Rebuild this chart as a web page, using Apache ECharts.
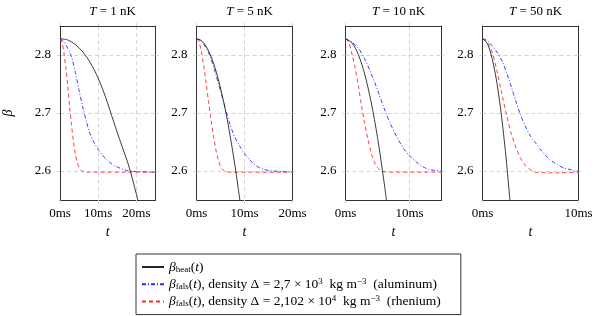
<!DOCTYPE html>
<html><head><meta charset="utf-8">
<script src="https://cdn.jsdelivr.net/npm/echarts@6/dist/echarts.min.js"></script>
<style>html,body{margin:0;padding:0;background:#fff}#c{width:599px;height:316px}</style>
</head><body><div id="c"></div>
<script>
// ---- data ----
const panelT = ['1', '5', '10', '50'];          // temperature in nK
const xMax = [25, 20, 15, 10];                  // ms
const xTicks = [[0, 10, 20], [0, 10, 20], [0, 10], [0, 10]];
const yTicks = [2.6, 2.7, 2.8];
const yMin = 2.55, yMax = 2.85;

// panel 1 (T = 1 nK)
const p1HeatT = [0, 2, 4, 6, 8, 10, 12, 14, 16, 18, 20, 21];
const p1HeatB = [2.828, 2.826, 2.818, 2.805, 2.786, 2.760, 2.726, 2.686, 2.647, 2.609, 2.560, 2.535];
const p1AlT = [0, 1, 2, 3, 4, 5, 6, 7, 8, 9, 10, 11, 12, 13, 14, 15, 16, 17, 18, 20, 25];
const p1AlB = [2.828, 2.823, 2.812, 2.797, 2.770, 2.739, 2.709, 2.683, 2.662, 2.648, 2.637, 2.628, 2.621, 2.615, 2.610, 2.607, 2.604, 2.602, 2.600, 2.599, 2.598];
const p1ReT = [0, 0.5, 1, 1.5, 2, 2.5, 3, 3.5, 4, 4.5, 5, 5.5, 6, 7, 25];
const p1ReB = [2.828, 2.822, 2.805, 2.780, 2.748, 2.712, 2.680, 2.652, 2.630, 2.615, 2.606, 2.601, 2.599, 2.598, 2.598];

// panel 2 (T = 5 nK)
const p2HeatT = [0, 1, 2, 3, 4, 5, 6, 7, 8, 9, 9.5];
const p2HeatB = [2.828, 2.825, 2.815, 2.798, 2.774, 2.743, 2.706, 2.661, 2.610, 2.552, 2.521];
const p2AlT = [0, 1, 2, 3, 4, 5, 6, 7, 8, 9, 10, 11, 12, 13, 14, 15, 16, 18, 20];
const p2AlB = [2.828, 2.824, 2.812, 2.794, 2.767, 2.738, 2.708, 2.680, 2.658, 2.643, 2.630, 2.620, 2.612, 2.606, 2.603, 2.601, 2.600, 2.599, 2.598];
const p2ReT = [0, 0.5, 1, 1.5, 2, 2.5, 3, 3.5, 4, 4.5, 5, 5.5, 6, 7, 20];
const p2ReB = [2.828, 2.823, 2.806, 2.782, 2.752, 2.720, 2.690, 2.662, 2.638, 2.620, 2.608, 2.602, 2.599, 2.598, 2.598];

// panel 3 (T = 10 nK)
const p3HeatT = [0, 1, 2, 3, 4, 5, 6, 6.5];
const p3HeatB = [2.828, 2.821, 2.801, 2.767, 2.719, 2.658, 2.583, 2.541];
const p3AlT = [0, 1, 2, 3, 4, 5, 6, 7, 8, 9, 10, 11, 12, 13, 14, 15];
const p3AlB = [2.828, 2.822, 2.812, 2.793, 2.768, 2.740, 2.709, 2.682, 2.659, 2.640, 2.626, 2.616, 2.608, 2.603, 2.601, 2.600];
const p3ReT = [0, 0.5, 1, 1.5, 2, 2.5, 3, 3.5, 4, 4.5, 5, 5.5, 6, 7, 15];
const p3ReB = [2.828, 2.822, 2.802, 2.778, 2.748, 2.712, 2.682, 2.655, 2.632, 2.616, 2.606, 2.601, 2.599, 2.598, 2.598];

// panel 4 (T = 50 nK)
const p4HeatT = [0, 0.5, 1, 1.5, 2, 2.5, 3];
const p4HeatB = [2.828, 2.820, 2.794, 2.752, 2.692, 2.615, 2.522];
const p4AlT = [0, 0.5, 1, 1.5, 2, 2.5, 3, 3.5, 4, 4.5, 5, 5.5, 6, 6.5, 7, 7.5, 8, 8.5, 9, 9.5, 10];
const p4AlB = [2.828, 2.825, 2.816, 2.805, 2.791, 2.770, 2.745, 2.719, 2.695, 2.676, 2.660, 2.649, 2.638, 2.628, 2.620, 2.614, 2.609, 2.605, 2.603, 2.601, 2.600];
const p4ReT = [0, 0.5, 1, 1.5, 2, 2.5, 3, 3.5, 4, 4.5, 5, 5.5, 6, 7, 8, 10];
const p4ReB = [2.828, 2.822, 2.805, 2.773, 2.734, 2.697, 2.664, 2.640, 2.621, 2.609, 2.602, 2.598, 2.597, 2.597, 2.597, 2.598];

const panels = [
  { heat: [p1HeatT, p1HeatB], al: [p1AlT, p1AlB], re: [p1ReT, p1ReB] },
  { heat: [p2HeatT, p2HeatB], al: [p2AlT, p2AlB], re: [p2ReT, p2ReB] },
  { heat: [p3HeatT, p3HeatB], al: [p3AlT, p3AlB], re: [p3ReT, p3ReB] },
  { heat: [p4HeatT, p4HeatB], al: [p4AlT, p4AlB], re: [p4ReT, p4ReB] }
];

// ---- layout / style ----
const FONT = 'Liberation Serif';
const gridLefts = [59.5, 196.5, 345.5, 482.5];
const gridTop = 26, gridW = 96, gridH = 174;
const gridColor = '#d6d6d6';
const frame = { show: true, onZero: false, lineStyle: { color: '#333', width: 1 } };
const zip = (a, b) => a.map((v, i) => [v, b[i]]);

const grids = [], xAxes = [], yAxes = [], series = [], titles = [];
const tickStyle = { color: gridColor, width: 1, type: [3, 2] };
const styles = {
  heat: { color: '#262626', width: 0.9, type: 'solid' },
  al: { color: '#2a2aff', width: 0.9, type: [4, 2, 1, 2] },
  re: { color: '#ff2a2a', width: 0.9, type: [4, 3] }
};

panels.forEach((p, i) => {
  grids.push({ left: gridLefts[i], top: gridTop, width: gridW, height: gridH, show: false });
  xAxes.push({
    gridIndex: i, type: 'value', min: 0, max: xMax[i], position: 'bottom', z: 1,
    axisLine: frame,
    axisTick: { show: true, customValues: xTicks[i], length: 5, lineStyle: tickStyle },
    axisLabel: { customValues: xTicks[i], formatter: v => v + 'ms', fontFamily: FONT, fontSize: 13, color: '#000', margin: 7 },
    splitLine: { show: true, lineStyle: { color: gridColor, type: [4, 3] } },
    name: 't', nameLocation: 'middle', nameGap: 23,
    nameTextStyle: { fontFamily: FONT, fontStyle: 'italic', fontSize: 14, color: '#000' }
  });
  xAxes.push({
    gridIndex: i, type: 'value', min: 0, max: xMax[i], position: 'top', z: 3,
    axisLine: frame,
    axisTick: { show: true, customValues: xTicks[i], length: 5, lineStyle: tickStyle },
    axisLabel: { show: false }, splitLine: { show: false }
  });
  yAxes.push({
    gridIndex: i, type: 'value', min: yMin, max: yMax, position: 'left', z: 3,
    axisLine: frame,
    axisTick: { show: true, customValues: yTicks, length: 5, lineStyle: tickStyle },
    axisLabel: { customValues: yTicks, formatter: v => v.toFixed(1), fontFamily: FONT, fontSize: 13, color: '#000', margin: 9 },
    splitLine: { show: true, lineStyle: { color: gridColor, type: [4, 3] } },
    name: i === 0 ? 'β' : '', nameLocation: 'middle', nameGap: 45,
    nameTextStyle: { fontFamily: FONT, fontStyle: 'italic', fontSize: 14, color: '#000' }
  });
  yAxes.push({
    gridIndex: i, type: 'value', min: yMin, max: yMax, position: 'right', z: 3,
    axisLine: frame,
    axisTick: { show: true, customValues: yTicks, length: 5, lineStyle: tickStyle },
    axisLabel: { show: false }, splitLine: { show: false }
  });
  ['heat', 'al', 're'].forEach(k => {
    series.push({
      name: k, type: 'line', xAxisIndex: 2 * i, yAxisIndex: 2 * i,
      data: zip(p[k][0], p[k][1]), showSymbol: false, symbol: 'none',
      smooth: 0.3, clip: true,
      lineStyle: styles[k], itemStyle: { color: styles[k].color },
      z: k === 'heat' ? 5 : 4
    });
  });
  titles.push({
    text: '{i|T} = ' + panelT[i] + ' nK',
    left: gridLefts[i] + gridW / 2, top: 0, textAlign: 'center',
    textStyle: { fontFamily: FONT, fontSize: 13, fontWeight: 'normal', color: '#000',
      rich: { i: { fontFamily: FONT, fontSize: 13, fontStyle: 'italic', color: '#000' } } }
  });
});

const legendText = {
  heat: '{i|β}{sub|heat}({i|t})',
  al: '{i|β}{sub|fals}({i|t}), density Δ = 2,7 × 10{sup|3}  kg m{sup|−3}  (aluminum)',
  re: '{i|β}{sub|fals}({i|t}), density Δ = 2,102 × 10{sup|4}  kg m{sup|−3}  (rhenium)'
};

const chart = echarts.init(document.getElementById('c'), null, { renderer: 'canvas' });
chart.setOption({
  animation: false,
  backgroundColor: '#fff',
  title: titles,
  grid: grids, xAxis: xAxes, yAxis: yAxes, series: series,
  legend: {
    data: ['heat', 'al', 're'], orient: 'vertical', left: 136, top: 254,
    itemWidth: 22, itemHeight: 10, itemGap: 3.3,
    padding: [6, 20, 6, 5], borderColor: '#333', borderWidth: 1, borderRadius: 0,
    selectedMode: false,
    itemStyle: { opacity: 0 },
    formatter: n => legendText[n],
    textStyle: { fontFamily: FONT, fontSize: 13.5, color: '#000', lineHeight: 14,
      rich: {
        i: { fontFamily: FONT, fontSize: 13.5, fontStyle: 'italic', lineHeight: 14 },
        sub: { fontFamily: FONT, fontSize: 9, lineHeight: 8, verticalAlign: 'bottom' },
        sup: { fontFamily: FONT, fontSize: 9, lineHeight: 8, verticalAlign: 'top' }
      } }
  }
});
</script></body></html>
